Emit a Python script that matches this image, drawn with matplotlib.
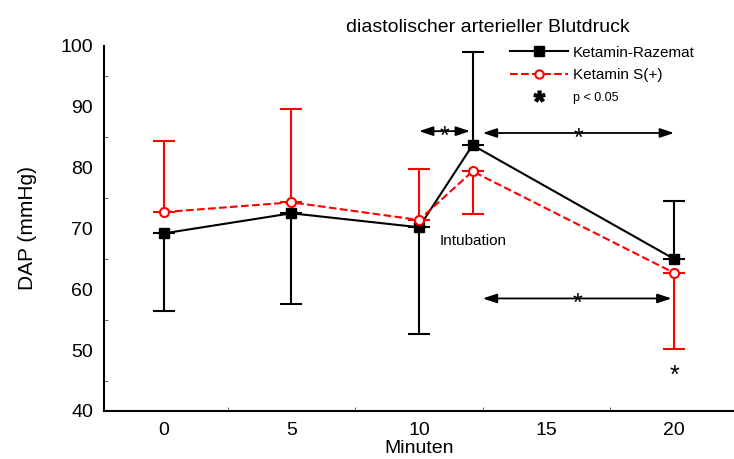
import matplotlib.pyplot as plt
from matplotlib.lines import Line2D
import numpy as np

plt.rcParams['font.family'] = ['Liberation Sans', 'DejaVu Sans']
plt.rcParams['mathtext.fontset'] = 'custom'
plt.rcParams['mathtext.rm'] = 'Liberation Sans'
plt.rcParams['mathtext.it'] = 'Liberation Sans'
plt.rcParams['mathtext.bf'] = 'Liberation Sans:bold'

minuten = [0, 5, 10, 12.1, 20]

# Ketamin-Razemat: Mittelwert und SD
razemat = [69.2, 72.5, 70.2, 83.7, 65.0]
razemat_sd = [12.8, 14.9, 17.6, 15.3, 9.5]
razemat_unten = [True, True, True, False, False]  # SD-Balken nach unten?

# Ketamin S(+)
ketamin_s = [72.7, 74.3, 71.4, 79.4, 62.7]
ketamin_s_sd = [11.7, 15.3, 8.4, 7.0, 12.5]
ketamin_s_unten = [False, False, False, True, True]


def sd_bars(sd, unten):
    sd = np.array(sd)
    unten = np.array(unten)
    return [np.where(unten, sd, 0), np.where(unten, 0, sd)]


def stern(x, y):
    # Asterisk etwas tiefer setzen, damit er auf der Linie sitzt
    ax.annotate('*', xy=(x, y), xytext=(0, -4), textcoords='offset points',
                ha='center', va='center', fontsize=18, zorder=6)


fig = plt.figure(figsize=(7.34, 4.59), dpi=100)
ax = fig.add_axes([0.1417, 0.1046, 0.8583, 0.7952])

ax.errorbar(minuten, razemat, yerr=sd_bars(razemat_sd, razemat_unten),
            color='black', lw=1.5, marker='s', ms=7, capsize=8,
            elinewidth=1.5, capthick=1.5, zorder=3)
ax.errorbar(minuten, ketamin_s, yerr=sd_bars(ketamin_s_sd, ketamin_s_unten),
            color='red', lw=1.5, ls='--', marker='o', ms=6.5, mfc='white',
            mew=1.5, capsize=8, elinewidth=1.5, capthick=1.5, zorder=4)

# Signifikanz-Pfeile
pfeile = [(10.0, 12.0, 86.0), (12.5, 20.0, 85.7), (12.5, 19.9, 58.5)]
for x0, x1, y in pfeile:
    ax.annotate('', xy=(x1, y), xytext=(x0, y),
                arrowprops=dict(arrowstyle='<|-|>,head_length=0.6,head_width=0.2',
                                color='black', lw=1.3, shrinkA=0, shrinkB=0,
                                mutation_scale=14))
    stern((x0 + x1) / 2, y)
stern(20, 46.7)

ax.text(10.8, 68.0, 'Intubation', ha='left', va='center', fontsize=11)

ax.set_xlim(-2.35, 22.35)
ax.set_ylim(40, 100)
ax.set_xticks([0, 5, 10, 15, 20])
ax.set_xticks([2.5, 7.5, 12.5, 17.5], minor=True)
ax.set_yticks(range(40, 101, 10))
ax.set_yticks(range(45, 100, 10), minor=True)
ax.tick_params(which='major', length=0, labelsize=14, pad=8)
ax.tick_params(which='minor', length=3, direction='in', color='0.3')
ax.spines['top'].set_visible(False)
ax.spines['right'].set_visible(False)
ax.spines['left'].set_linewidth(1.5)
ax.spines['bottom'].set_linewidth(1.5)

ax.set_xlabel('Minuten', fontsize=14, labelpad=1)
ax.set_ylabel('DAP (mmHg)', fontsize=15, labelpad=17)
ax.set_title('diastolischer arterieller Blutdruck', fontsize=14, x=0.61, pad=10)

handles = [
    Line2D([], [], color='black', lw=1.5, marker='s', ms=7),
    Line2D([], [], color='red', lw=1.5, ls='--', marker='o', ms=6,
           mfc='white', mew=1.5),
    Line2D([], [], ls='none', marker=r'$\mathbf{*}$', color='black', ms=8),
]
leg = ax.legend(handles, ['Ketamin-Razemat', 'Ketamin S(+)', 'p < 0.05'],
                loc='upper left', bbox_to_anchor=(0.635, 1.018), frameon=False,
                fontsize=11, handlelength=3.8, handletextpad=0.3,
                labelspacing=0.55, borderaxespad=0)
leg.get_texts()[2].set_fontsize(9)

fig.savefig('out.png', dpi=100)
